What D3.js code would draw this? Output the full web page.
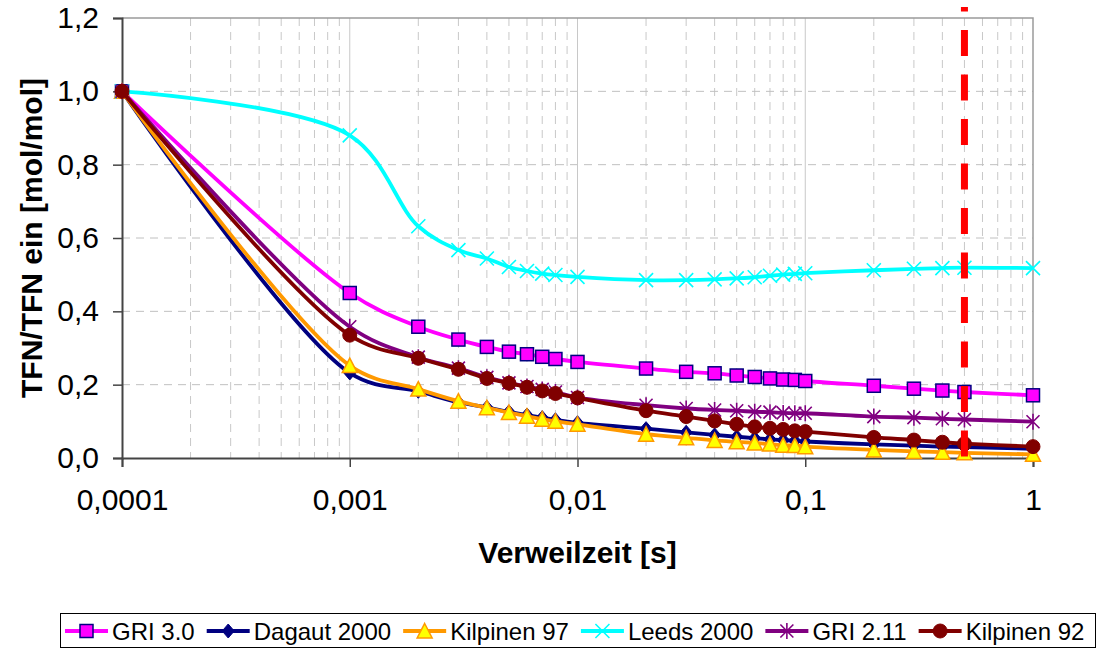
<!DOCTYPE html>
<html>
<head>
<meta charset="utf-8">
<script src="https://cdn.jsdelivr.net/npm/d3@7"></script>
<style>
  html, body { margin: 0; padding: 0; background: #fff; }
  svg { display: block; }
  text { font-family: "Liberation Sans", Arial, sans-serif; }
</style>
</head>
<body>
<svg id="chart" width="1100" height="650"></svg>
<script>
// Residence times (s) of the sampled points
const times = [0.0001, 0.001, 0.002, 0.003, 0.004, 0.005, 0.006, 0.007, 0.008, 0.01,
               0.02, 0.03, 0.04, 0.05, 0.06, 0.07, 0.08, 0.09, 0.1,
               0.2, 0.3, 0.4, 0.5, 1];

// TFN/TFN_in per mechanism
const gri30 = [1.0, 0.450, 0.358, 0.323, 0.303, 0.290, 0.283, 0.276, 0.270, 0.262,
               0.244, 0.235, 0.231, 0.225, 0.221, 0.217, 0.214, 0.213, 0.210,
               0.197, 0.189, 0.184, 0.180, 0.171];
const dagaut2000 = [1.0, 0.232, 0.182, 0.152, 0.138, 0.126, 0.117, 0.110, 0.104, 0.096,
               0.080, 0.070, 0.063, 0.058, 0.054, 0.051, 0.049, 0.047, 0.045,
               0.037, 0.034, 0.031, 0.030, 0.025];
const kilpinen97 = [1.0, 0.252, 0.188, 0.155, 0.137, 0.124, 0.114, 0.106, 0.100, 0.092,
               0.065, 0.055, 0.048, 0.044, 0.041, 0.038, 0.035, 0.034, 0.031,
               0.022, 0.018, 0.016, 0.014, 0.010];
const leeds2000 = [1.0, 0.880, 0.632, 0.567, 0.544, 0.521, 0.510, 0.503, 0.499, 0.494,
               0.485, 0.485, 0.487, 0.490, 0.493, 0.497, 0.500, 0.502, 0.504,
               0.512, 0.516, 0.518, 0.519, 0.518];
const gri211 = [1.0, 0.358, 0.275, 0.245, 0.220, 0.205, 0.195, 0.187, 0.180, 0.165,
               0.144, 0.135, 0.131, 0.129, 0.126, 0.125, 0.123, 0.122, 0.122,
               0.113, 0.110, 0.107, 0.105, 0.099];
const kilpinen92 = [1.0, 0.335, 0.272, 0.242, 0.217, 0.204, 0.193, 0.183, 0.176, 0.164,
               0.129, 0.113, 0.101, 0.092, 0.085, 0.081, 0.078, 0.074, 0.072,
               0.056, 0.049, 0.043, 0.039, 0.031];

const seriesNames = ["GRI 3.0", "Dagaut 2000", "Kilpinen 97", "Leeds 2000", "GRI 2.11", "Kilpinen 92"];
const seriesValues = [gri30, dagaut2000, kilpinen97, leeds2000, gri211, kilpinen92];

// Axis ticks
const xTicks = [0.0001, 0.001, 0.01, 0.1, 1];
const xTickLabels = ["0,0001", "0,001", "0,01", "0,1", "1"];
const yTicks = [0, 0.2, 0.4, 0.6, 0.8, 1.0, 1.2];

// Reference residence time marker
const markerTime = 0.5;
const markerSpan = [0, 1.23];

const styles = [
  { line: "#FF00FF", shape: "square",   fill: "#FF00FF", stroke: "#000080" },
  { line: "#000080", shape: "diamond",  fill: "#000080", stroke: "#000080" },
  { line: "#FF9900", shape: "triangle", fill: "#FFFF00", stroke: "#FF9900" },
  { line: "#00FFFF", shape: "x",        fill: "none",    stroke: "#00FFFF" },
  { line: "#800080", shape: "star",     fill: "none",    stroke: "#800080" },
  { line: "#800000", shape: "circle",   fill: "#800000", stroke: "#800000" }
];

const svg = d3.select("#chart");
const plotLeft = 122, plotRight = 1033, plotTop = 18, plotBottom = 458;

const x = d3.scaleLog().domain([0.0001, 1]).range([plotLeft, plotRight]);
const y = d3.scaleLinear().domain([0, 1.2]).range([plotBottom, plotTop]);

// Grid
const grid = svg.append("g");
const minorX = [];
for (let d = 0.0001; d < 0.99; d *= 10) {
  for (let k = 2; k <= 9; k++) minorX.push(d * k);
}
grid.selectAll(".minor").data(minorX).join("line")
  .attr("x1", d => x(d)).attr("x2", d => x(d))
  .attr("y1", plotTop).attr("y2", plotBottom)
  .attr("stroke", "#c8c8c8").attr("stroke-width", 1)
  .attr("stroke-dasharray", "8,6");
grid.selectAll(".hgrid").data(yTicks.filter(v => v > 0 && v < 1.2)).join("line")
  .attr("x1", plotLeft).attr("x2", plotRight)
  .attr("y1", d => y(d)).attr("y2", d => y(d))
  .attr("stroke", "#c0c0c0").attr("stroke-width", 1)
  .attr("stroke-dasharray", "8,6");
grid.selectAll(".major").data(xTicks.slice(1, -1)).join("line")
  .attr("x1", d => x(d)).attr("x2", d => x(d))
  .attr("y1", plotTop).attr("y2", plotBottom)
  .attr("stroke", "#c8c8c8").attr("stroke-width", 1);
// Plot area frame (top and right)
grid.append("path")
  .attr("d", `M${plotLeft},${plotTop}H${plotRight}V${plotBottom}`)
  .attr("fill", "none").attr("stroke", "#9a9a9a").attr("stroke-width", 1.5);

// Axes
const xAxis = d3.axisBottom(x).tickValues(xTicks)
  .tickFormat((d, i) => xTickLabels[i]).tickSize(9).tickPadding(22);
const gx = svg.append("g").attr("transform", `translate(0,${plotBottom})`).call(xAxis);
gx.select(".domain").attr("stroke", "#444").attr("stroke-width", 2);
gx.selectAll(".tick line").attr("stroke", "#444").attr("stroke-width", 1.5);
gx.selectAll(".tick text").attr("font-size", 30).attr("fill", "#000")
  .attr("font-family", "Liberation Sans, Arial, sans-serif");

const yAxis = d3.axisLeft(y).tickValues(yTicks)
  .tickFormat(d => d3.format(".1f")(d).replace(".", ",")).tickSize(9).tickPadding(14);
const gy = svg.append("g").attr("transform", `translate(${plotLeft},0)`).call(yAxis);
gy.select(".domain").attr("stroke", "#444").attr("stroke-width", 2);
gy.selectAll(".tick line").attr("stroke", "#444").attr("stroke-width", 1.5);
gy.selectAll(".tick text").attr("font-size", 30).attr("fill", "#000")
  .attr("font-family", "Liberation Sans, Arial, sans-serif");

// Axis titles
svg.append("text")
  .attr("x", (plotLeft + plotRight) / 2).attr("y", 563)
  .attr("text-anchor", "middle").attr("font-size", 30).attr("font-weight", "bold")
  .text("Verweilzeit [s]");
svg.append("text")
  .attr("transform", `translate(42,${(plotTop + plotBottom) / 2}) rotate(-90)`)
  .attr("text-anchor", "middle").attr("font-size", 30).attr("font-weight", "bold")
  .text("TFN/TFN ein [mol/mol]");

// Marker drawing
function drawMarker(g, shape, st, cx, cy) {
  switch (shape) {
    case "square":
      g.append("rect").attr("x", cx - 6.5).attr("y", cy - 6.5).attr("width", 13).attr("height", 13)
        .attr("fill", st.fill).attr("stroke", st.stroke).attr("stroke-width", 1.5);
      break;
    case "diamond":
      g.append("path").attr("d", `M${cx},${cy - 7}L${cx + 6},${cy}L${cx},${cy + 7}L${cx - 6},${cy}Z`)
        .attr("fill", st.fill).attr("stroke", st.stroke).attr("stroke-width", 1);
      break;
    case "triangle":
      g.append("path").attr("d", `M${cx},${cy - 7.5}L${cx + 7.5},${cy + 7}L${cx - 7.5},${cy + 7}Z`)
        .attr("fill", st.fill).attr("stroke", st.stroke).attr("stroke-width", 1.5);
      break;
    case "x":
      g.append("path").attr("d", `M${cx - 7},${cy - 7}L${cx + 7},${cy + 7}M${cx - 7},${cy + 7}L${cx + 7},${cy - 7}`)
        .attr("fill", "none").attr("stroke", st.stroke).attr("stroke-width", 1.6);
      break;
    case "star":
      g.append("path").attr("d", `M${cx - 6.5},${cy - 6.5}L${cx + 6.5},${cy + 6.5}M${cx - 6.5},${cy + 6.5}L${cx + 6.5},${cy - 6.5}M${cx},${cy - 8}L${cx},${cy + 8}`)
        .attr("fill", "none").attr("stroke", st.stroke).attr("stroke-width", 1.6);
      break;
    case "circle":
      g.append("circle").attr("cx", cx).attr("cy", cy).attr("r", 7)
        .attr("fill", st.fill).attr("stroke", st.stroke).attr("stroke-width", 1);
      break;
  }
}

// Series
const line = d3.line()
  .x(d => x(d[0])).y(d => y(d[1]))
  .curve(d3.curveCatmullRom.alpha(0.5));

const plot = svg.append("g");
seriesValues.forEach((vals, i) => {
  const st = styles[i];
  const pts = times.map((t, j) => [t, vals[j]]);
  const g = plot.append("g");
  g.append("path").datum(pts).attr("d", line)
    .attr("fill", "none").attr("stroke", st.line).attr("stroke-width", 3.8)
    .attr("stroke-linejoin", "round");
  pts.forEach(p => drawMarker(g, st.shape, st, x(p[0]), y(p[1])));
});

// Reference time line
svg.append("line")
  .attr("x1", x(markerTime)).attr("x2", x(markerTime))
  .attr("y1", y(markerSpan[1])).attr("y2", y(markerSpan[0]))
  .attr("stroke", "#FF0000").attr("stroke-width", 7)
  .attr("stroke-dasharray", "26,18.5").attr("stroke-dashoffset", 21.5);

// Legend
const legend = svg.append("g");
legend.append("rect").attr("x", 60.5).attr("y", 613.5).attr("width", 1035).attr("height", 34)
  .attr("fill", "#fff").attr("stroke", "#000").attr("stroke-width", 1);
let lx = 65;
const ly = 631;
seriesNames.forEach((name, i) => {
  const st = styles[i];
  const g = legend.append("g");
  g.append("line").attr("x1", lx).attr("x2", lx + 43).attr("y1", ly).attr("y2", ly)
    .attr("stroke", st.line).attr("stroke-width", 3.8);
  drawMarker(g, st.shape, st, lx + 21.5, ly);
  const t = g.append("text").attr("x", lx + 47).attr("y", ly + 8.5)
    .attr("font-size", 24).attr("fill", "#000").text(name);
  lx += 47 + t.node().getComputedTextLength() + 12;
});
</script>
</body>
</html>
